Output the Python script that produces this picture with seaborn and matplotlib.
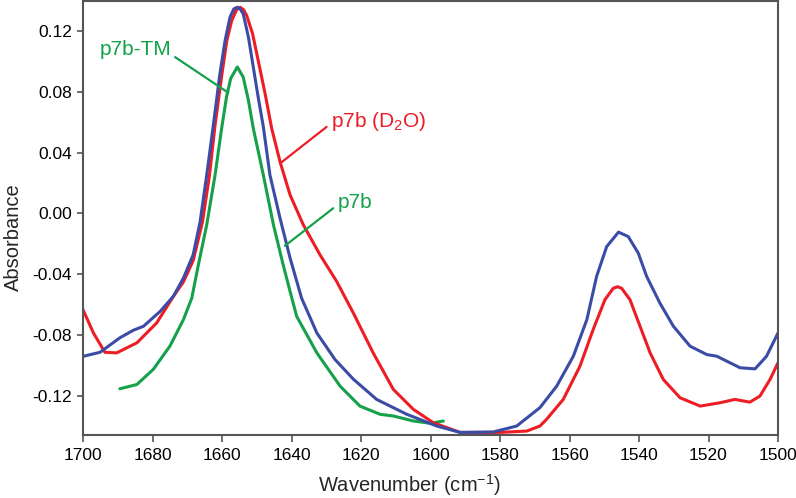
import numpy as np
import pandas as pd
import matplotlib
matplotlib.use("Agg")
import matplotlib.pyplot as plt
import seaborn as sns

# spectra (wavenumber cm-1, absorbance)
blue_wn = [1700, 1695.1, 1689.4, 1685.5, 1682.6, 1677.8, 1674.0, 1671.1, 1668.3, 1666.3,
           1664.4, 1662.5, 1660.6, 1659.1, 1657.7, 1656.6, 1655.6, 1654.8, 1653.9, 1652.4,
           1651.0, 1649.6, 1648.1, 1646.2, 1643.3, 1640.4, 1637.1, 1632.7, 1627.5, 1622.2,
           1615.5, 1606.9, 1598.2, 1591.5, 1581.9, 1575.2, 1568.5, 1563.7, 1558.9, 1555.0,
           1552.2, 1549.3, 1545.9, 1543.1, 1540.2, 1537.8, 1534.0, 1530.1, 1525.3, 1520.5,
           1517.6, 1510.9, 1506.6, 1503.3, 1500]
blue_abs = [-0.094, -0.0913, -0.0818, -0.0768, -0.0742, -0.0644, -0.0545, -0.0425, -0.0272, -0.0054,
            0.0252, 0.058, 0.0919, 0.1138, 0.129, 0.1345, 0.1356, 0.1345, 0.1313, 0.116,
            0.0963, 0.0766, 0.0569, 0.0252, -0.0031, -0.0294, -0.0557, -0.0786, -0.0960, -0.109,
            -0.1223, -0.132, -0.1398, -0.144, -0.1437, -0.1398, -0.1277, -0.1136, -0.0939, -0.0698,
            -0.0414, -0.0218, -0.0123, -0.0152, -0.0261, -0.0414, -0.0589, -0.0742, -0.0873, -0.0928,
            -0.0939, -0.1015, -0.1022, -0.0939, -0.0786]

red_wn = [1700, 1697.0, 1693.7, 1690.3, 1684.5, 1678.8, 1674.0, 1671.1, 1668.3, 1665.6,
          1663.6, 1662.0, 1660.0, 1658.6, 1657.2, 1655.8, 1654.8, 1653.8, 1652.9, 1651.2,
          1649.6, 1647.6, 1645.7, 1643.3, 1640.4, 1636.6, 1631.8, 1627.0, 1622.2, 1616.5,
          1610.7, 1604.9, 1599.2, 1591.5, 1580.0, 1572.3, 1568.5, 1566.6, 1561.8, 1557.0,
          1553.2, 1549.8, 1547.4, 1546.2, 1545.0, 1542.6, 1539.7, 1536.8, 1533.0, 1528.2,
          1522.4, 1516.7, 1512.4, 1508.1, 1505.2, 1502.3, 1500]
red_abs = [-0.0633, -0.0786, -0.0913, -0.0917, -0.0851, -0.072, -0.0546, -0.045, -0.031, -0.0054,
           0.0252, 0.058, 0.092, 0.1138, 0.1269, 0.1340, 0.1356, 0.1340, 0.1302, 0.1182,
           0.1007, 0.0788, 0.0559, 0.034, 0.0121, -0.0075, -0.0272, -0.0447, -0.0655, -0.0917,
           -0.1157, -0.1289, -0.1376, -0.144, -0.144, -0.1431, -0.1398, -0.1354, -0.1223, -0.1005,
           -0.0764, -0.0567, -0.0492, -0.0482, -0.0492, -0.0567, -0.0742, -0.0917, -0.1092, -0.1212,
           -0.1267, -0.1245, -0.1223, -0.1241, -0.1201, -0.1092, -0.0982]

green_wn = [1689.4, 1684.5, 1679.8, 1675.0, 1671.1, 1668.7, 1666.8, 1664.4, 1662.0, 1660.1,
            1658.7, 1657.5, 1655.6, 1653.9, 1652.4, 1651.0, 1648.1, 1645.2, 1642.4, 1639.9,
            1638.5, 1632.7, 1626.0, 1620.3, 1614.5, 1610.7, 1604.9, 1600.1, 1596.3]
green_abs = [-0.1153, -0.1125, -0.1026, -0.0873, -0.0698, -0.0557, -0.0338, -0.0075, 0.0252, 0.056,
             0.0766, 0.0887, 0.0963, 0.0897, 0.0744, 0.056, 0.0252, -0.0075, -0.0338, -0.0557,
             -0.0677, -0.0917, -0.1136, -0.1267, -0.1321, -0.1332, -0.1365, -0.138, -0.1365]

blue_c = "#3a4ca6"
red_c = "#ee1c24"
green_c = "#14a14a"

sns.set_style("ticks")
plt.rcParams['font.family'] = ['Liberation Sans', 'DejaVu Sans']
plt.rcParams['mathtext.fontset'] = 'custom'
plt.rcParams['mathtext.rm'] = 'Liberation Sans'
plt.rcParams['mathtext.it'] = 'Liberation Sans:italic'
plt.rcParams['axes.unicode_minus'] = False

df = pd.concat([
    pd.DataFrame({'wn': blue_wn, 'abs': blue_abs, 'series': 'blue'}),
    pd.DataFrame({'wn': red_wn, 'abs': red_abs, 'series': 'red'}),
    pd.DataFrame({'wn': green_wn, 'abs': green_abs, 'series': 'green'}),
])

fig = plt.figure(figsize=(7.96, 4.98), dpi=100)
ax = fig.add_axes([83/796, 63/498, 695/796, 434/498])

sns.lineplot(data=df, x='wn', y='abs', hue='series', hue_order=['green', 'red', 'blue'],
             palette={'blue': blue_c, 'red': red_c, 'green': green_c},
             estimator=None, sort=False, linewidth=2.2, legend=False, ax=ax)
for ln in ax.lines:
    ln.set_solid_joinstyle('round')

ax.set_xlim(1700, 1500)
ax.set_ylim(-0.1457, 0.1397)
ax.set_xticks(np.arange(1700, 1499, -20))
ax.set_yticks([-0.12, -0.08, -0.04, 0.00, 0.04, 0.08, 0.12])
ax.yaxis.set_major_formatter(matplotlib.ticker.FormatStrFormatter('%.2f'))

for s in ax.spines.values():
    s.set_color('#555555')
    s.set_linewidth(1.5)
ax.tick_params(axis='both', colors='#555555', labelcolor='black', labelsize=12.5, width=1.2)
ax.tick_params(axis='x', length=5, pad=4.5)
ax.tick_params(axis='y', length=4.5, pad=3.5)

ax.set_xlabel('Wavenumber (cm$^{\\mathregular{-1}}$)', fontsize=14.5)
ax.set_ylabel('Absorbance', fontsize=14.5)
ax.xaxis.set_label_coords(0.47, -0.086)
ax.yaxis.set_label_coords(-0.087, 0.456)

# labels with leader lines
ax.plot([1673.5, 1658.2], [0.1028, 0.0794], color=green_c, lw=1.6)
ax.text(1695.2, 0.1080, 'p7b-TM', color=green_c, fontsize=15, ha='left', va='center')

ax.plot([1629.9, 1643.3], [0.0569, 0.0329], color=red_c, lw=1.6)
ax.text(1628.6, 0.0607, 'p7b (D$_{\\mathregular{2}}$O)', color=red_c, fontsize=15, ha='left', va='center')

ax.plot([1628.0, 1641.9], [0.0034, -0.0213], color=green_c, lw=1.6)
ax.text(1626.8, 0.0072, 'p7b', color=green_c, fontsize=15, ha='left', va='center')

fig.savefig('out.png', dpi=100)
